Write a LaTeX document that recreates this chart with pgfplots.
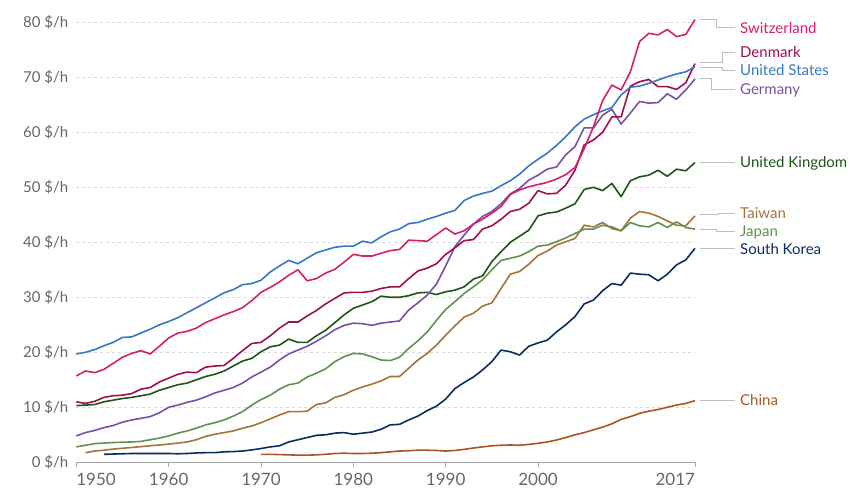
\documentclass[border=0pt]{standalone}
\usepackage{fontspec}
\setmainfont{Lato}
\usepackage{pgfplots}
\pgfplotsset{compat=1.18}
\definecolor{cSwi}{RGB}{214,30,110}
\definecolor{cDen}{RGB}{160,14,80}
\definecolor{cUSA}{RGB}{55,118,200}
\definecolor{cGer}{RGB}{120,80,165}
\definecolor{cUK}{RGB}{30,85,25}
\definecolor{cJap}{RGB}{95,145,80}
\definecolor{cTai}{RGB}{165,115,60}
\definecolor{cKor}{RGB}{10,45,95}
\definecolor{cChi}{RGB}{170,85,40}
\definecolor{tgray}{RGB}{102,102,102}
\definecolor{conn}{RGB}{190,190,190}
\begin{document}
\begin{tikzpicture}[x=1pt,y=1pt]
\useasboundingbox (-76.3,-40.7) rectangle (786.7,462.3);
\begin{axis}[
  at={(0,0)}, anchor=south west,
  scale only axis, width=618.7pt, height=440pt,
  xmin=1950, xmax=2017, ymin=0, ymax=80,
  clip=false,
  axis x line=bottom, axis y line=left,
  x axis line style={-, draw=gray!70, line width=0.8pt},
  y axis line style={draw=none},
  xtick={1950,1960,1970,1980,1990,2000,2017},
  xticklabels={\makebox[0pt][l]{1950},1960,1970,1980,1990,2000,\makebox[0pt][r]{2017}},
  xtick align=outside,
  major tick length=5pt,
  xtick style={draw=gray!70, line width=0.8pt},
  ytick={0,10,20,30,40,50,60,70,80},
  yticklabels={0 \$/h,10 \$/h,20 \$/h,30 \$/h,40 \$/h,50 \$/h,60 \$/h,70 \$/h,80 \$/h},
  ytick style={draw=none},
  ymajorgrids,
  grid style={gray!30, dash pattern=on 3pt off 3pt, line width=0.8pt},
  tick label style={text=tgray},
  x tick label style={font=\fontsize{17}{17}\selectfont, yshift=-2pt},
  y tick label style={font=\fontsize{15}{15}\selectfont, xshift=-2pt},
  every axis plot/.append style={line width=1.6pt, no markers, line join=round},
]
% China
\addplot[cChi] coordinates {(1970,1.45)(1971,1.45)(1972,1.4)(1973,1.35)(1974,1.3)(1975,1.3)(1976,1.35)(1977,1.45)(1978,1.6)(1979,1.65)(1980,1.6)(1981,1.6)(1982,1.65)(1983,1.75)(1984,1.9)(1985,2.05)(1986,2.1)(1987,2.2)(1988,2.2)(1989,2.15)(1990,2.05)(1991,2.15)(1992,2.35)(1993,2.6)(1994,2.8)(1995,3.0)(1996,3.1)(1997,3.15)(1998,3.1)(1999,3.25)(2000,3.45)(2001,3.7)(2002,4.05)(2003,4.5)(2004,5.0)(2005,5.4)(2006,5.9)(2007,6.4)(2008,7.0)(2009,7.8)(2010,8.3)(2011,8.9)(2012,9.3)(2013,9.6)(2014,10.0)(2015,10.4)(2016,10.7)(2017,11.2)};
% South Korea
\addplot[cKor] coordinates {(1953,1.45)(1954,1.5)(1955,1.55)(1956,1.6)(1957,1.6)(1958,1.6)(1959,1.6)(1960,1.6)(1961,1.55)(1962,1.6)(1963,1.7)(1964,1.75)(1965,1.75)(1966,1.9)(1967,1.95)(1968,2.05)(1969,2.25)(1970,2.5)(1971,2.8)(1972,3.0)(1973,3.7)(1974,4.1)(1975,4.5)(1976,4.9)(1977,5.0)(1978,5.3)(1979,5.4)(1980,5.1)(1981,5.3)(1982,5.5)(1983,6.0)(1984,6.8)(1985,6.9)(1986,7.7)(1987,8.4)(1988,9.4)(1989,10.2)(1990,11.5)(1991,13.4)(1992,14.5)(1993,15.5)(1994,16.8)(1995,18.3)(1996,20.4)(1997,20.1)(1998,19.5)(1999,21.1)(2000,21.7)(2001,22.2)(2002,23.7)(2003,25.0)(2004,26.5)(2005,28.8)(2006,29.5)(2007,31.2)(2008,32.5)(2009,32.2)(2010,34.4)(2011,34.2)(2012,34.1)(2013,33.0)(2014,34.2)(2015,35.9)(2016,36.8)(2017,38.9)};
% Taiwan
\addplot[cTai] coordinates {(1951,1.75)(1952,2.05)(1953,2.2)(1954,2.4)(1955,2.55)(1956,2.7)(1957,2.85)(1958,3.0)(1959,3.15)(1960,3.3)(1961,3.5)(1962,3.7)(1963,4.1)(1964,4.7)(1965,5.1)(1966,5.4)(1967,5.7)(1968,6.2)(1969,6.6)(1970,7.2)(1971,7.9)(1972,8.6)(1973,9.2)(1974,9.2)(1975,9.3)(1976,10.5)(1977,10.8)(1978,11.8)(1979,12.3)(1980,13.1)(1981,13.7)(1982,14.2)(1983,14.8)(1984,15.6)(1985,15.6)(1986,17.1)(1987,18.6)(1988,19.8)(1989,21.3)(1990,23.1)(1991,24.8)(1992,26.4)(1993,27.1)(1994,28.4)(1995,29.0)(1996,31.6)(1997,34.2)(1998,34.7)(1999,36.0)(2000,37.6)(2001,38.4)(2002,39.5)(2003,40.1)(2004,40.7)(2005,43.1)(2006,42.8)(2007,43.6)(2008,42.5)(2009,42.1)(2010,44.4)(2011,45.6)(2012,45.3)(2013,44.7)(2014,43.9)(2015,43.1)(2016,43.0)(2017,44.8)};
% Japan
\addplot[cJap] coordinates {(1950,2.8)(1951,3.1)(1952,3.4)(1953,3.5)(1954,3.6)(1955,3.65)(1956,3.7)(1957,3.8)(1958,4.1)(1959,4.4)(1960,4.8)(1961,5.3)(1962,5.7)(1963,6.2)(1964,6.8)(1965,7.2)(1966,7.7)(1967,8.4)(1968,9.2)(1969,10.4)(1970,11.4)(1971,12.2)(1972,13.3)(1973,14.1)(1974,14.4)(1975,15.5)(1976,16.2)(1977,17.0)(1978,18.3)(1979,19.2)(1980,19.8)(1981,19.7)(1982,19.2)(1983,18.6)(1984,18.5)(1985,19.1)(1986,20.7)(1987,22.1)(1988,23.7)(1989,25.8)(1990,27.8)(1991,29.2)(1992,30.7)(1993,31.9)(1994,33.2)(1995,35.0)(1996,36.7)(1997,37.1)(1998,37.5)(1999,38.3)(2000,39.3)(2001,39.5)(2002,40.1)(2003,40.8)(2004,41.6)(2005,42.4)(2006,42.4)(2007,43.1)(2008,42.8)(2009,42.1)(2010,43.6)(2011,43.0)(2012,42.8)(2013,43.6)(2014,42.7)(2015,43.7)(2016,42.7)(2017,42.4)};
% United Kingdom
\addplot[cUK] coordinates {(1950,10.3)(1951,10.4)(1952,10.5)(1953,11.0)(1954,11.3)(1955,11.6)(1956,11.8)(1957,12.1)(1958,12.4)(1959,13.1)(1960,13.6)(1961,14.1)(1962,14.4)(1963,15.0)(1964,15.6)(1965,16.0)(1966,16.6)(1967,17.5)(1968,18.4)(1969,18.9)(1970,20.1)(1971,21.0)(1972,21.3)(1973,22.4)(1974,21.8)(1975,21.8)(1976,23.0)(1977,24.0)(1978,25.4)(1979,26.8)(1980,28.0)(1981,28.6)(1982,29.2)(1983,30.2)(1984,30.0)(1985,30.0)(1986,30.3)(1987,30.8)(1988,30.9)(1989,30.5)(1990,31.0)(1991,31.3)(1992,31.9)(1993,33.3)(1994,33.9)(1995,36.5)(1996,38.3)(1997,40.0)(1998,41.1)(1999,42.2)(2000,44.8)(2001,45.3)(2002,45.5)(2003,46.2)(2004,47.0)(2005,49.6)(2006,50.0)(2007,49.4)(2008,50.7)(2009,48.3)(2010,51.2)(2011,51.9)(2012,52.2)(2013,53.1)(2014,52.0)(2015,53.3)(2016,53.0)(2017,54.5)};
% Germany
\addplot[cGer] coordinates {(1950,4.8)(1951,5.4)(1952,5.8)(1953,6.3)(1954,6.7)(1955,7.3)(1956,7.7)(1957,8.0)(1958,8.3)(1959,9.0)(1960,10.0)(1961,10.4)(1962,10.9)(1963,11.3)(1964,11.9)(1965,12.6)(1966,13.1)(1967,13.6)(1968,14.4)(1969,15.5)(1970,16.4)(1971,17.3)(1972,18.6)(1973,19.7)(1974,20.4)(1975,21.1)(1976,22.0)(1977,23.0)(1978,24.1)(1979,24.9)(1980,25.3)(1981,25.2)(1982,24.9)(1983,25.3)(1984,25.5)(1985,25.7)(1986,27.7)(1987,29.0)(1988,30.4)(1989,32.4)(1990,35.7)(1991,39.2)(1992,41.3)(1993,43.3)(1994,44.7)(1995,45.6)(1996,47.0)(1997,48.8)(1998,49.8)(1999,51.3)(2000,52.2)(2001,53.3)(2002,53.7)(2003,55.9)(2004,57.4)(2005,60.8)(2006,60.8)(2007,63.1)(2008,64.2)(2009,61.5)(2010,63.5)(2011,65.6)(2012,65.3)(2013,65.4)(2014,67.0)(2015,66.0)(2016,67.7)(2017,69.7)};
% Denmark
\addplot[cDen] coordinates {(1950,11.0)(1951,10.7)(1952,11.1)(1953,11.8)(1954,12.1)(1955,12.2)(1956,12.5)(1957,13.3)(1958,13.6)(1959,14.6)(1960,15.3)(1961,16.0)(1962,16.4)(1963,16.3)(1964,17.3)(1965,17.5)(1966,17.6)(1967,18.9)(1968,20.3)(1969,21.6)(1970,21.8)(1971,23.0)(1972,24.4)(1973,25.5)(1974,25.5)(1975,26.6)(1976,27.6)(1977,28.8)(1978,29.8)(1979,30.8)(1980,30.9)(1981,30.9)(1982,31.1)(1983,31.6)(1984,31.9)(1985,31.9)(1986,33.4)(1987,34.8)(1988,35.3)(1989,36.1)(1990,37.8)(1991,39.0)(1992,40.3)(1993,40.5)(1994,42.4)(1995,43.0)(1996,44.2)(1997,45.6)(1998,46.0)(1999,47.1)(2000,49.4)(2001,48.8)(2002,48.9)(2003,50.4)(2004,53.1)(2005,57.7)(2006,58.6)(2007,60.0)(2008,62.8)(2009,62.8)(2010,68.4)(2011,69.2)(2012,69.6)(2013,68.3)(2014,68.3)(2015,67.8)(2016,69.0)(2017,72.5)};
% United States
\addplot[cUSA] coordinates {(1950,19.7)(1951,20.0)(1952,20.5)(1953,21.2)(1954,21.8)(1955,22.7)(1956,22.8)(1957,23.5)(1958,24.2)(1959,25.0)(1960,25.6)(1961,26.3)(1962,27.2)(1963,28.1)(1964,29.0)(1965,29.9)(1966,30.8)(1967,31.4)(1968,32.3)(1969,32.5)(1970,33.1)(1971,34.6)(1972,35.7)(1973,36.7)(1974,36.1)(1975,37.1)(1976,38.1)(1977,38.6)(1978,39.1)(1979,39.3)(1980,39.3)(1981,40.2)(1982,39.9)(1983,41.0)(1984,41.9)(1985,42.4)(1986,43.4)(1987,43.6)(1988,44.2)(1989,44.7)(1990,45.3)(1991,45.8)(1992,47.6)(1993,48.4)(1994,48.9)(1995,49.3)(1996,50.3)(1997,51.2)(1998,52.4)(1999,53.9)(2000,55.1)(2001,56.2)(2002,57.6)(2003,59.2)(2004,61.0)(2005,62.4)(2006,63.2)(2007,63.9)(2008,64.5)(2009,66.8)(2010,68.2)(2011,68.4)(2012,68.9)(2013,69.5)(2014,70.1)(2015,70.6)(2016,71.0)(2017,71.9)};
% Switzerland
\addplot[cSwi] coordinates {(1950,15.7)(1951,16.6)(1952,16.3)(1953,16.9)(1954,18.0)(1955,19.1)(1956,19.8)(1957,20.3)(1958,19.7)(1959,21.1)(1960,22.6)(1961,23.5)(1962,23.8)(1963,24.4)(1964,25.4)(1965,26.1)(1966,26.8)(1967,27.4)(1968,28.1)(1969,29.4)(1970,30.9)(1971,31.8)(1972,32.8)(1973,34.0)(1974,35.0)(1975,33.0)(1976,33.4)(1977,34.4)(1978,35.1)(1979,36.4)(1980,37.8)(1981,37.5)(1982,37.5)(1983,38.0)(1984,38.5)(1985,38.7)(1986,40.4)(1987,40.3)(1988,40.2)(1989,41.4)(1990,42.6)(1991,41.5)(1992,42.1)(1993,43.3)(1994,44.2)(1995,45.3)(1996,46.5)(1997,48.7)(1998,49.5)(1999,50.1)(2000,50.5)(2001,50.9)(2002,51.5)(2003,52.3)(2004,53.6)(2005,57.0)(2006,61.0)(2007,65.8)(2008,68.6)(2009,67.7)(2010,71.0)(2011,76.5)(2012,78.0)(2013,77.7)(2014,78.7)(2015,77.4)(2016,77.8)(2017,80.5)};
% connectors
\begin{scope}[conn, line width=0.8pt]
\draw (axis cs:2017.54,80.55) -- (axis cs:2019.35,80.55) -- (axis cs:2019.35,79.1) -- (axis cs:2021.33,79.1);
\draw (axis cs:2017.54,72.65) -- (axis cs:2020.0,72.65) -- (axis cs:2020.0,74.55) -- (axis cs:2021.33,74.55);
\draw (axis cs:2017.54,71.75) -- (axis cs:2020.0,71.75) -- (axis cs:2020.0,71.2) -- (axis cs:2021.33,71.2);
\draw (axis cs:2017.54,69.8) -- (axis cs:2018.8,69.8) -- (axis cs:2018.8,67.87) -- (axis cs:2021.33,67.87);
\draw (axis cs:2017.54,54.47) -- (axis cs:2021.33,54.47);
\draw (axis cs:2017.54,45.1) -- (axis cs:2019.5,45.1) -- (axis cs:2019.5,45.27) -- (axis cs:2021.33,45.27);
\draw (axis cs:2017.54,42.36) -- (axis cs:2019.35,42.36) -- (axis cs:2019.35,41.93) -- (axis cs:2021.33,41.93);
\draw (axis cs:2017.54,38.9) -- (axis cs:2021.33,38.9);
\draw (axis cs:2017.54,11.2) -- (axis cs:2021.33,11.2);
\end{scope}
% labels
\begin{scope}[every node/.style={anchor=base west, inner sep=0pt, font=\fontsize{15}{15}\selectfont}]
\node[text=cSwi] at (axis cs:2021.87,78.0) {Switzerland};
\node[text=cDen] at (axis cs:2021.87,73.56) {Denmark};
\node[text=cUSA] at (axis cs:2021.87,70.24) {United States};
\node[text=cGer] at (axis cs:2021.87,66.96) {Germany};
\node[text=cUK] at (axis cs:2021.87,53.56) {United Kingdom};
\node[text=cTai] at (axis cs:2021.87,44.36) {Taiwan};
\node[text=cJap] at (axis cs:2021.87,41.02) {Japan};
\node[text=cKor] at (axis cs:2021.87,37.78) {South Korea};
\node[text=cChi] at (axis cs:2021.87,10.29) {China};
\end{scope}
\end{axis}
\end{tikzpicture}
\end{document}
